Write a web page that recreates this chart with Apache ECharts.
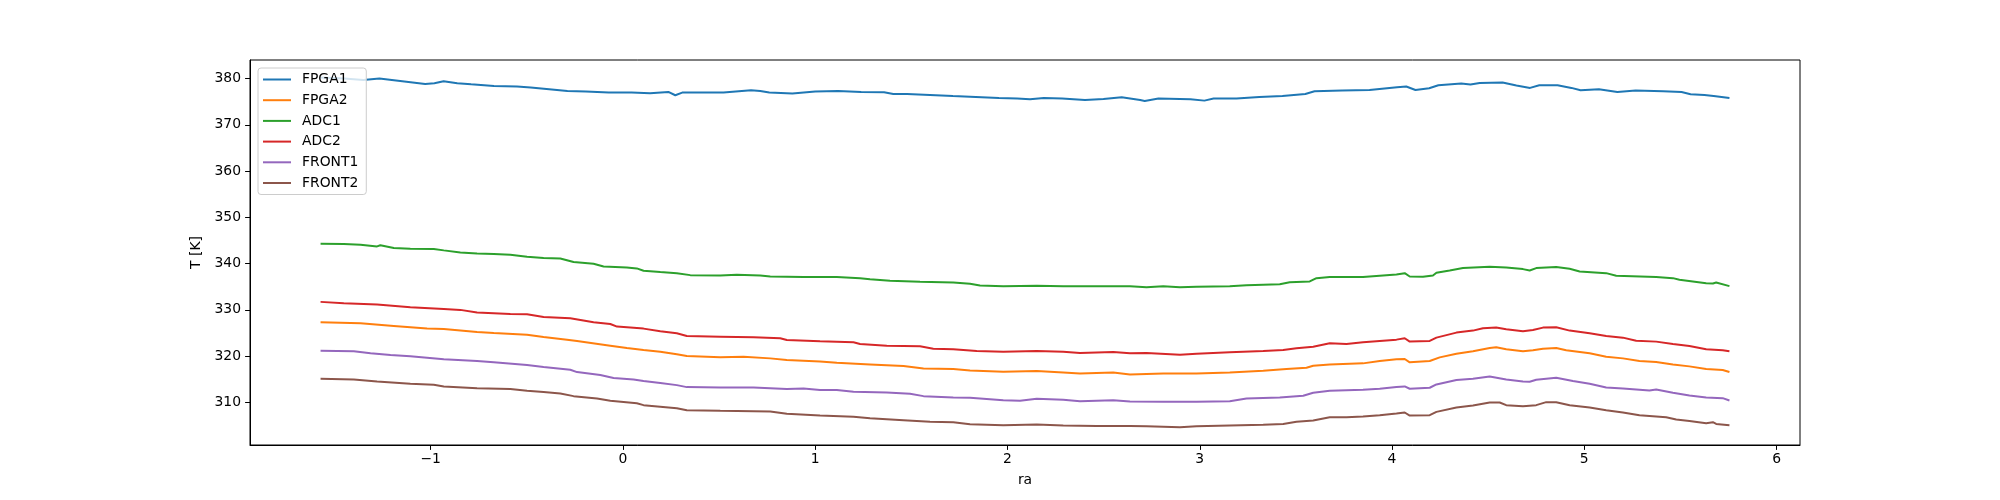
<!DOCTYPE html>
<html>
<head>
<meta charset="utf-8">
<script src="https://cdn.jsdelivr.net/npm/echarts@6/dist/echarts.min.js"></script>
<style>
html,body{margin:0;padding:0;background:#fff;}
#chart{width:2000px;height:500px;}
</style>
</head>
<body>
<div id="chart"></div>
<script>
// Series names and colours
const seriesNames = ['FPGA1', 'FPGA2', 'ADC1', 'ADC2', 'FRONT1', 'FRONT2'];
const seriesColors = ['#1f77b4', '#ff7f0e', '#2ca02c', '#d62728', '#9467bd', '#8c564b'];

// Tick values
const xTicks = [-1, 0, 1, 2, 3, 4, 5, 6];
const yTicks = [310, 320, 330, 340, 350, 360, 370, 380];

// [ra, T] pairs
const FPGA1 = [[-1.575,380.2],[-1.45,380.0],[-1.351,379.70],[-1.267,379.99],[-1.148,379.41],[-1.029,378.83],[-0.981,378.98],[-0.933,379.41],[-0.862,378.98],[-0.790,378.76],[-0.671,378.40],[-0.551,378.26],[-0.480,378.04],[-0.384,377.68],[-0.289,377.32],[-0.193,377.17],[-0.074,376.96],[0.045,376.96],[0.141,376.81],[0.236,377.10],[0.272,376.38],[0.308,376.96],[0.523,376.96],[0.666,377.46],[0.714,377.32],[0.761,376.96],[0.881,376.74],[1.000,377.17],[1.119,377.32],[1.239,377.10],[1.358,377.03],[1.406,376.67],[1.477,376.67],[1.716,376.23],[1.835,376.02],[1.955,375.80],[2.050,375.66],[2.117,375.51],[2.189,375.80],[2.284,375.66],[2.403,375.37],[2.499,375.58],[2.594,375.94],[2.690,375.37],[2.714,375.15],[2.785,375.66],[2.952,375.51],[3.024,375.22],[3.072,375.66],[3.191,375.66],[3.310,376.02],[3.430,376.23],[3.549,376.67],[3.597,377.25],[3.740,377.39],[3.883,377.53],[4.026,378.11],[4.074,378.26],[4.122,377.53],[4.193,377.90],[4.241,378.55],[4.360,378.91],[4.408,378.69],[4.456,379.05],[4.575,379.12],[4.647,378.47],[4.718,377.97],[4.766,378.55],[4.861,378.55],[4.933,377.97],[4.981,377.46],[5.076,377.68],[5.172,377.10],[5.267,377.39],[5.410,377.25],[5.506,377.10],[5.553,376.60],[5.625,376.45],[5.673,376.23],[5.755,375.80]];

const FPGA2 = [[-1.573,327.33],[-1.365,327.11],[-1.192,326.53],[-1.019,325.95],[-0.932,325.88],[-0.759,325.23],[-0.672,325.01],[-0.499,324.65],[-0.413,324.15],[-0.291,323.57],[-0.239,323.28],[-0.066,322.27],[0.020,321.76],[0.107,321.33],[0.194,320.97],[0.280,320.39],[0.332,320.03],[0.506,319.74],[0.627,319.88],[0.766,319.52],[0.852,319.16],[1.025,318.87],[1.112,318.58],[1.285,318.22],[1.459,317.86],[1.563,317.35],[1.718,317.21],[1.805,316.92],[1.978,316.63],[2.152,316.78],[2.290,316.49],[2.377,316.27],[2.550,316.49],[2.637,316.05],[2.810,316.27],[2.983,316.27],[3.156,316.49],[3.330,316.85],[3.451,317.21],[3.555,317.50],[3.590,317.93],[3.676,318.22],[3.849,318.44],[3.936,318.94],[4.023,319.31],[4.066,319.38],[4.092,318.66],[4.196,318.94],[4.248,319.74],[4.335,320.53],[4.421,321.04],[4.508,321.76],[4.542,321.91],[4.594,321.47],[4.681,321.04],[4.733,321.26],[4.785,321.62],[4.854,321.76],[4.906,321.26],[5.028,320.61],[5.114,319.88],[5.201,319.52],[5.287,318.94],[5.374,318.73],[5.461,318.22],[5.547,317.79],[5.634,317.21],[5.720,317.00],[5.755,316.56]];

const ADC1 = [[-1.573,344.30],[-1.452,344.23],[-1.365,344.09],[-1.279,343.72],[-1.262,343.98],[-1.192,343.36],[-1.106,343.22],[-0.984,343.15],[-0.932,342.86],[-0.846,342.42],[-0.759,342.21],[-0.672,342.06],[-0.586,341.92],[-0.499,341.49],[-0.413,341.20],[-0.326,341.12],[-0.257,340.33],[-0.153,339.97],[-0.101,339.39],[0.020,339.17],[0.072,338.96],[0.107,338.45],[0.194,338.16],[0.280,337.94],[0.350,337.51],[0.506,337.44],[0.592,337.58],[0.714,337.44],[0.766,337.22],[0.939,337.08],[1.112,337.08],[1.233,336.86],[1.285,336.64],[1.389,336.28],[1.545,336.07],[1.718,335.92],[1.805,335.63],[1.857,335.27],[1.978,335.13],[2.152,335.20],[2.290,335.13],[2.463,335.13],[2.637,335.13],[2.723,334.91],[2.810,335.13],[2.897,334.91],[2.983,334.98],[3.156,335.13],[3.243,335.34],[3.416,335.56],[3.468,335.99],[3.572,336.14],[3.607,336.86],[3.676,337.08],[3.849,337.08],[3.936,337.37],[4.023,337.66],[4.066,337.94],[4.092,337.22],[4.161,337.15],[4.213,337.44],[4.231,338.02],[4.300,338.52],[4.369,339.03],[4.508,339.32],[4.594,339.17],[4.681,338.81],[4.716,338.52],[4.750,339.03],[4.854,339.25],[4.924,338.88],[4.976,338.31],[5.114,337.94],[5.166,337.37],[5.374,337.08],[5.461,336.86],[5.495,336.50],[5.634,335.78],[5.669,335.70],[5.686,335.92],[5.755,335.13]];

const ADC2 = [[-1.573,331.73],[-1.452,331.44],[-1.279,331.15],[-1.106,330.58],[-0.932,330.21],[-0.846,330.00],[-0.759,329.42],[-0.586,329.13],[-0.499,329.06],[-0.413,328.48],[-0.274,328.19],[-0.153,327.33],[-0.066,326.96],[-0.031,326.39],[0.107,325.95],[0.194,325.37],[0.280,324.94],[0.332,324.36],[0.506,324.22],[0.679,324.07],[0.818,323.86],[0.852,323.50],[1.025,323.21],[1.199,322.99],[1.233,322.63],[1.372,322.27],[1.545,322.12],[1.614,321.62],[1.718,321.47],[1.840,321.11],[1.978,320.97],[2.152,321.11],[2.290,320.97],[2.377,320.68],[2.550,320.90],[2.637,320.61],[2.723,320.68],[2.897,320.32],[2.983,320.53],[3.156,320.82],[3.330,321.11],[3.434,321.33],[3.503,321.69],[3.590,322.05],[3.676,322.77],[3.763,322.63],[3.849,322.99],[3.936,323.28],[4.023,323.57],[4.066,323.86],[4.092,323.14],[4.196,323.28],[4.231,324.00],[4.335,325.09],[4.421,325.52],[4.473,326.02],[4.542,326.17],[4.594,325.81],[4.681,325.37],[4.733,325.66],[4.785,326.17],[4.854,326.24],[4.924,325.52],[5.028,324.94],[5.114,324.36],[5.201,324.00],[5.270,323.35],[5.374,323.14],[5.461,322.63],[5.547,322.19],[5.634,321.47],[5.720,321.26],[5.755,321.04]];

const FRONT1 = [[-1.573,321.18],[-1.400,321.04],[-1.313,320.61],[-1.209,320.25],[-1.106,319.96],[-1.019,319.67],[-0.932,319.31],[-0.759,318.94],[-0.672,318.66],[-0.499,318.08],[-0.413,317.64],[-0.274,317.07],[-0.239,316.56],[-0.118,315.91],[-0.049,315.26],[0.055,314.97],[0.107,314.61],[0.194,314.18],[0.280,313.74],[0.332,313.31],[0.506,313.24],[0.679,313.24],[0.852,312.88],[0.939,313.02],[1.025,312.66],[1.112,312.66],[1.199,312.30],[1.372,312.15],[1.493,311.86],[1.563,311.36],[1.718,311.07],[1.805,311.00],[1.978,310.49],[2.065,310.35],[2.152,310.78],[2.290,310.56],[2.377,310.27],[2.550,310.49],[2.637,310.20],[2.810,310.13],[2.983,310.13],[3.156,310.27],[3.243,310.85],[3.416,311.07],[3.538,311.43],[3.590,312.08],[3.676,312.51],[3.849,312.73],[3.936,312.95],[4.023,313.31],[4.066,313.45],[4.092,312.95],[4.196,313.17],[4.231,313.89],[4.335,314.83],[4.421,315.12],[4.508,315.62],[4.594,314.97],[4.681,314.54],[4.716,314.47],[4.750,314.90],[4.854,315.33],[4.941,314.61],[5.028,314.03],[5.114,313.24],[5.201,313.02],[5.339,312.59],[5.374,312.80],[5.461,312.08],[5.547,311.50],[5.634,311.07],[5.720,310.92],[5.755,310.42]];

const FRONT2 = [[-1.573,315.12],[-1.400,314.97],[-1.279,314.54],[-1.106,314.03],[-0.984,313.82],[-0.932,313.45],[-0.759,313.09],[-0.586,312.88],[-0.499,312.51],[-0.413,312.23],[-0.326,311.94],[-0.257,311.36],[-0.135,310.85],[-0.066,310.35],[0.072,309.84],[0.107,309.41],[0.280,308.76],[0.332,308.32],[0.506,308.18],[0.766,308.04],[0.852,307.53],[1.025,307.17],[1.199,306.88],[1.285,306.59],[1.459,306.16],[1.597,305.80],[1.718,305.72],[1.805,305.29],[1.978,305.07],[2.152,305.22],[2.290,305.00],[2.463,304.93],[2.637,304.93],[2.723,304.86],[2.897,304.64],[2.983,304.86],[3.156,305.00],[3.330,305.15],[3.434,305.36],[3.503,305.80],[3.590,306.09],[3.676,306.81],[3.763,306.81],[3.849,306.95],[3.936,307.24],[4.023,307.60],[4.066,307.82],[4.092,307.17],[4.196,307.24],[4.231,307.96],[4.335,308.90],[4.421,309.34],[4.508,309.99],[4.560,309.99],[4.594,309.41],[4.681,309.19],[4.750,309.41],[4.802,310.06],[4.854,310.06],[4.924,309.41],[5.028,308.90],[5.114,308.32],[5.201,307.82],[5.287,307.24],[5.426,306.81],[5.478,306.30],[5.547,306.01],[5.634,305.51],[5.669,305.72],[5.686,305.36],[5.755,305.07]];

const seriesData = [FPGA1, FPGA2, ADC1, ADC2, FRONT1, FRONT2];

const FONT = 'DejaVu Sans';
const chart = echarts.init(document.getElementById('chart'), null, {renderer: 'canvas'});

function fmt(v) { return v < 0 ? '\u2212' + Math.abs(v) : String(v); }

const option = {
  animation: false,
  backgroundColor: '#ffffff',
  color: seriesColors,
  grid: {
    left: 250, top: 60, width: 1550, height: 385,
    show: true, borderColor: '#000000', borderWidth: 1, backgroundColor: 'transparent',
    outerBoundsMode: 'none', containLabel: false
  },
  legend: {
    orient: 'vertical',
    left: 258, top: 68,
    data: seriesNames,
    icon: 'rect',
    itemWidth: 28, itemHeight: 2,
    itemGap: 6.7,
    padding: [4.5, 8, 4.5, 5],
    backgroundColor: 'rgba(255,255,255,0.8)',
    borderColor: '#cccccc', borderWidth: 1, borderRadius: 3,
    textStyle: {fontFamily: FONT, fontSize: 13.9, color: '#000', lineHeight: 14, padding: [0, 0, 0, 6]},
    selectedMode: false
  },
  xAxis: {
    type: 'value',
    min: -1.94, max: 6.122,
    name: 'ra', nameLocation: 'middle', nameGap: 28,
    nameTextStyle: {fontFamily: FONT, fontSize: 13.9, color: '#000'},
    axisLine: {show: true, onZero: false, lineStyle: {color: '#000', width: 1}},
    axisTick: {show: true, customValues: xTicks, length: 4.9, lineStyle: {color: '#000', width: 1}},
    axisLabel: {customValues: xTicks, formatter: fmt, fontFamily: FONT, fontSize: 13.9, color: '#000', margin: 7},
    splitLine: {show: false}
  },
  yAxis: {
    type: 'value',
    min: 300.8, max: 384.0,
    name: 'T [K]', nameLocation: 'middle', nameGap: 39, nameRotate: 90,
    nameTextStyle: {fontFamily: FONT, fontSize: 13.9, color: '#000'},
    axisLine: {show: true, onZero: false, lineStyle: {color: '#000', width: 1}},
    axisTick: {show: true, customValues: yTicks, length: 4.9, lineStyle: {color: '#000', width: 1}},
    axisLabel: {customValues: yTicks, fontFamily: FONT, fontSize: 13.9, color: '#000', margin: 9},
    splitLine: {show: false}
  },
  series: seriesNames.map((n, i) => ({
    name: n,
    type: 'line',
    data: seriesData[i],
    showSymbol: false,
    symbol: 'none',
    lineStyle: {width: 2, color: seriesColors[i]},
    itemStyle: {color: seriesColors[i]},
    clip: true
  }))
};
chart.setOption(option);
</script>
</body>
</html>
